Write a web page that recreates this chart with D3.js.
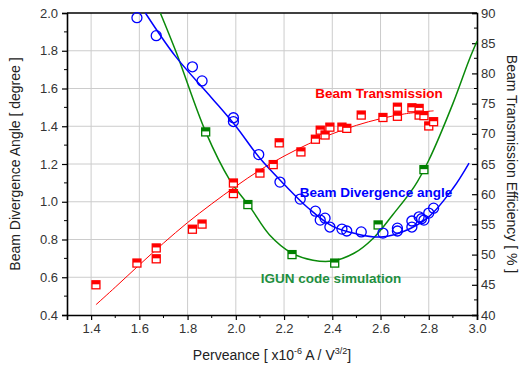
<!DOCTYPE html>
<html lang="en">
<head>
<meta charset="UTF-8">
<script src="https://d3js.org/d3.v7.min.js"></script>
<style>
  body { margin: 0; background: #fff; }
  text { font-family: "Liberation Sans", Arial, sans-serif; }
</style>
</head>
<body>
<svg width="519" height="365"></svg>
<script>
// blue circles: beam divergence angle [degree] (left axis)
var divX = [1.59, 1.67, 1.82, 1.86, 1.99, 1.99, 2.095, 2.183, 2.267, 2.33, 2.35, 2.37, 2.39, 2.44, 2.46, 2.52, 2.61, 2.67, 2.67, 2.73, 2.73, 2.76, 2.77, 2.78, 2.80, 2.82];
var divY = [1.975, 1.88, 1.715, 1.64, 1.445, 1.425, 1.25, 1.104, 1.014, 0.95, 0.903, 0.913, 0.866, 0.855, 0.845, 0.84, 0.834, 0.86, 0.845, 0.898, 0.866, 0.92, 0.91, 0.903, 0.94, 0.966];
// blue fit line
var divFitX = [1.625, 1.75, 1.9, 2.0, 2.1, 2.2, 2.3, 2.4, 2.5, 2.6, 2.7, 2.8, 2.9, 2.967];
var divFitY = [2.0, 1.77, 1.55, 1.40, 1.23, 1.093, 0.967, 0.871, 0.83, 0.813, 0.845, 0.92, 1.07, 1.205];

// red squares: beam transmission efficiency [%] (right axis)
var trX = [1.42, 1.59, 1.67, 1.67, 1.82, 1.86, 1.99, 1.99, 2.10, 2.155, 2.18, 2.27, 2.33, 2.35, 2.37, 2.39, 2.44, 2.46, 2.52, 2.61, 2.67, 2.67, 2.73, 2.76, 2.76, 2.78, 2.80, 2.82];
var trY = [45.0, 48.6, 51.1, 49.3, 54.2, 55.05, 61.85, 60.1, 63.5, 64.9, 68.5, 67.0, 69.1, 70.6, 69.8, 71.1, 71.1, 70.9, 73.1, 72.7, 74.4, 72.9, 74.3, 74.2, 73.1, 73.0, 71.3, 72.0];
// red fit line
var trFitX = [1.42, 1.5, 1.6, 1.7, 1.8, 1.9, 2.0, 2.1, 2.2, 2.3, 2.4, 2.5, 2.6, 2.7, 2.82];
var trFitY = [41.7, 44.6, 48.3, 51.9, 55.3, 58.4, 61.3, 64.0, 66.3, 68.3, 70.0, 71.4, 72.5, 73.3, 73.8];

// green squares: IGUN code simulation [degree] (left axis)
var igunX = [1.875, 2.05, 2.233, 2.41, 2.59, 2.78];
var igunY = [1.37, 0.985, 0.72, 0.675, 0.877, 1.17];
// green simulation curve
var igunFitX = [1.687, 1.754, 1.875, 1.975, 2.06, 2.14, 2.233, 2.32, 2.40, 2.49, 2.57, 2.65, 2.74, 2.80, 2.90, 2.967, 3.0];
var igunFitY = [2.0, 1.788, 1.37, 1.115, 0.97, 0.824, 0.727, 0.69, 0.686, 0.727, 0.807, 0.93, 1.08, 1.22, 1.52, 1.75, 1.85];

var xTicks = [1.4, 1.6, 1.8, 2.0, 2.2, 2.4, 2.6, 2.8, 3.0];
var yLeftTicks = [0.4, 0.6, 0.8, 1.0, 1.2, 1.4, 1.6, 1.8, 2.0];
var yRightTicks = [40, 45, 50, 55, 60, 65, 70, 75, 80, 85, 90];

var svg = d3.select("svg"),
    margin = {top: 13, right: 42, bottom: 50, left: 67},
    width = +svg.attr("width") - margin.left - margin.right,
    height = +svg.attr("height") - margin.top - margin.bottom,
    g = svg.append("g").attr("transform", "translate(" + margin.left + "," + margin.top + ")");

var red = "#ff0000", blue = "#0000ff", green = "#0a8a0a";

var x = d3.scaleLinear().domain([1.3, 3.0]).range([0, width]);
var yL = d3.scaleLinear().domain([0.4, 2.0]).range([height, 0]);
var yR = d3.scaleLinear().domain([40, 90]).range([height, 0]);

// grid
g.selectAll(".gx").data(xTicks.filter(function(d) { return d < 3.0; })).enter().append("line")
  .attr("x1", function(d) { return x(d); }).attr("x2", function(d) { return x(d); })
  .attr("y1", 0).attr("y2", height)
  .attr("stroke", "#cccccc").attr("stroke-width", 1);
g.selectAll(".gy").data(yLeftTicks.filter(function(d) { return d > 0.4 && d < 2.0; })).enter().append("line")
  .attr("x1", 0).attr("x2", width)
  .attr("y1", function(d) { return yL(d); }).attr("y2", function(d) { return yL(d); })
  .attr("stroke", "#cccccc").attr("stroke-width", 1);

// minor tick helper
function minors(ticks) {
  var out = [];
  for (var i = 0; i < ticks.length - 1; i++) out.push((ticks[i] + ticks[i + 1]) / 2);
  return out;
}

// axes
var xAxis = g.append("g").attr("transform", "translate(0," + height + ")")
  .call(d3.axisBottom(x).tickValues(xTicks).tickFormat(d3.format(".1f")).tickSize(5).tickPadding(4));
xAxis.append("g").selectAll("line").data(minors([1.2].concat(xTicks)).filter(function(d) { return d > 1.3; }))
  .enter().append("line").attr("x1", function(d) { return x(d); }).attr("x2", function(d) { return x(d); })
  .attr("y1", 0).attr("y2", 3).attr("stroke", "#000");

var yAxisL = g.append("g")
  .call(d3.axisLeft(yL).tickValues(yLeftTicks).tickFormat(d3.format(".1f")).tickSize(5).tickPadding(4));
yAxisL.append("g").selectAll("line").data(minors(yLeftTicks)).enter().append("line")
  .attr("x1", -3).attr("x2", 0)
  .attr("y1", function(d) { return yL(d); }).attr("y2", function(d) { return yL(d); }).attr("stroke", "#000");

var yAxisR = g.append("g").attr("transform", "translate(" + width + ",0)")
  .call(d3.axisRight(yR).tickValues(yRightTicks).tickSize(-5).tickPadding(9));
yAxisR.append("g").selectAll("line").data(minors(yRightTicks)).enter().append("line")
  .attr("x1", -3).attr("x2", 0)
  .attr("y1", function(d) { return yR(d); }).attr("y2", function(d) { return yR(d); }).attr("stroke", "#000");

[xAxis, yAxisL, yAxisR].forEach(function(a) {
  a.select(".domain").attr("stroke", "#000").attr("stroke-width", 1.6);
  a.selectAll(".tick line").attr("stroke", "#000").attr("stroke-width", 1.2);
  a.selectAll("text").attr("font-size", 13).attr("fill", "#333")
    .attr("font-family", "'Liberation Sans', Arial, sans-serif");
});
yAxisR.selectAll(".tick text").attr("x", 4);
// top frame
g.append("line").attr("x1", 0).attr("x2", width).attr("y1", 0).attr("y2", 0)
  .attr("stroke", "#000").attr("stroke-width", 1.6);

// curves
function pairs(xs, ys) { return xs.map(function(v, i) { return [v, ys[i]]; }); }

var lineL = d3.line().x(function(d) { return x(d[0]); }).y(function(d) { return yL(d[1]); }).curve(d3.curveCatmullRom);
var lineR = d3.line().x(function(d) { return x(d[0]); }).y(function(d) { return yR(d[1]); }).curve(d3.curveCatmullRom);

g.append("path").datum(pairs(trFitX, trFitY)).attr("d", lineR)
  .attr("fill", "none").attr("stroke", red).attr("stroke-width", 1);
g.append("path").datum(pairs(igunFitX, igunFitY)).attr("d", lineL)
  .attr("fill", "none").attr("stroke", green).attr("stroke-width", 1.5);
g.append("path").datum(pairs(divFitX, divFitY)).attr("d", lineL)
  .attr("fill", "none").attr("stroke", blue).attr("stroke-width", 1.5);

// half filled square markers
function squares(data, ys, color) {
  var s = 8;
  var m = g.append("g").selectAll("g").data(data).enter().append("g")
    .attr("transform", function(d) { return "translate(" + x(d[0]) + "," + ys(d[1]) + ")"; });
  m.append("rect").attr("x", -s / 2).attr("y", -s / 2).attr("width", s).attr("height", s)
    .attr("fill", "#fff").attr("stroke", color).attr("stroke-width", 1.3);
  m.append("rect").attr("x", -s / 2).attr("y", -s / 2).attr("width", s).attr("height", s / 2 - 0.5)
    .attr("fill", color);
}
squares(pairs(trX, trY), yR, red);
squares(pairs(igunX, igunY), yL, "#008000");

// open circles
g.append("g").selectAll("circle").data(pairs(divX, divY)).enter().append("circle")
  .attr("cx", function(d) { return x(d[0]); }).attr("cy", function(d) { return yL(d[1]); })
  .attr("r", 5).attr("fill", "none").attr("stroke", blue).attr("stroke-width", 1.3);

// in-plot labels
svg.append("text").attr("x", 379).attr("y", 98).attr("text-anchor", "middle")
  .attr("font-size", 13.5).attr("font-weight", "bold").attr("fill", red).text("Beam Transmission");
svg.append("text").attr("x", 376).attr("y", 197).attr("text-anchor", "middle")
  .attr("font-size", 13.5).attr("font-weight", "bold").attr("fill", blue).text("Beam Divergence angle");
svg.append("text").attr("x", 331).attr("y", 283).attr("text-anchor", "middle")
  .attr("font-size", 13.5).attr("font-weight", "bold").attr("fill", "#1f8f3f").text("IGUN code simulation");

// axis titles
svg.append("text").attr("transform", "translate(20," + (margin.top + height / 2) + ") rotate(-90)")
  .attr("text-anchor", "middle").attr("font-size", 14).attr("fill", "#222")
  .text("Beam Divergence Angle [ degree ]");
svg.append("text").attr("transform", "translate(507," + (margin.top + height / 2) + ") rotate(90)")
  .attr("text-anchor", "middle").attr("font-size", 14).attr("fill", "#222")
  .text("Beam Transmission Efficiency [ % ]");
var xt = svg.append("text").attr("x", 272).attr("y", 360).attr("text-anchor", "middle")
  .attr("font-size", 14).attr("fill", "#222");
xt.append("tspan").text("Perveance [ x10");
xt.append("tspan").attr("dy", -6).attr("font-size", 9).text("-6");
xt.append("tspan").attr("dy", 6).text(" A / V");
xt.append("tspan").attr("dy", -6).attr("font-size", 9).text("3/2");
xt.append("tspan").attr("dy", 6).text("]");
</script>
</body>
</html>
